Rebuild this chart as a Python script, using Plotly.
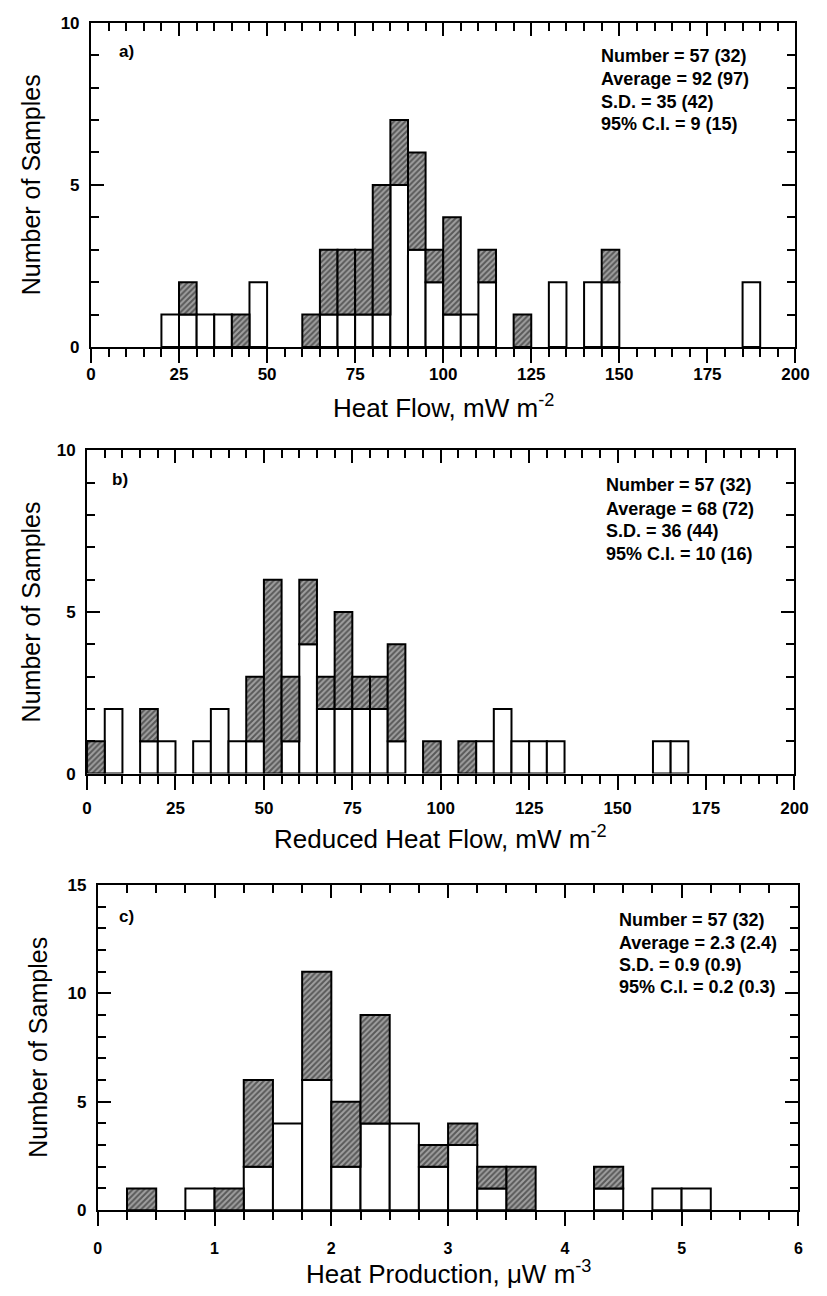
import plotly.graph_objects as go

# ---------------- data ----------------
# panel a: Heat Flow (bin width 5 mW m-2), bins given by left edge
a_bins = [20, 25, 30, 35, 40, 45, 60, 65, 70, 75, 80, 85, 90, 95, 100, 105, 110, 120, 130, 140, 145, 185]
a_white = [1, 1, 1, 1, 0, 2, 0, 1, 1, 1, 1, 5, 3, 2, 1, 1, 2, 0, 2, 2, 2, 2]
a_hatch = [0, 1, 0, 0, 1, 0, 1, 2, 2, 2, 4, 2, 3, 1, 3, 0, 1, 1, 0, 0, 1, 0]
a_stats = ["Number = 57 (32)", "Average = 92 (97)", "S.D. = 35 (42)", "95% C.I. = 9 (15)"]

# panel b: Reduced Heat Flow (bin width 5 mW m-2)
b_bins = [0, 5, 15, 20, 30, 35, 40, 45, 50, 55, 60, 65, 70, 75, 80, 85, 95, 105, 110, 115, 120, 125, 130, 160, 165]
b_white = [0, 2, 1, 1, 1, 2, 1, 1, 0, 1, 4, 2, 2, 2, 2, 1, 0, 0, 1, 2, 1, 1, 1, 1, 1]
b_hatch = [1, 0, 1, 0, 0, 0, 0, 2, 6, 2, 2, 1, 3, 1, 1, 3, 1, 1, 0, 0, 0, 0, 0, 0, 0]
b_stats = ["Number = 57 (32)", "Average = 68 (72)", "S.D. = 36 (44)", "95% C.I. = 10 (16)"]

# panel c: Heat Production (bin width 0.25 uW m-3)
c_bins = [0.25, 0.75, 1.0, 1.25, 1.5, 1.75, 2.0, 2.25, 2.5, 2.75, 3.0, 3.25, 3.5, 4.25, 4.75, 5.0]
c_white = [0, 1, 0, 2, 4, 6, 2, 4, 4, 2, 3, 1, 0, 1, 1, 1]
c_hatch = [1, 0, 1, 4, 0, 5, 3, 5, 0, 1, 1, 1, 2, 1, 0, 0]
c_stats = ["Number = 57 (32)", "Average = 2.3 (2.4)", "S.D. = 0.9 (0.9)", "95% C.I. = 0.2 (0.3)"]

panels = [
    dict(bins=a_bins, white=a_white, hatch=a_hatch, stats=a_stats, width=5, xr=[0, 200], xd=25, xm=5,
         yr=[0, 10], letter="a)", title="Heat Flow, mW m<sup>-2</sup>", tfs=17, so=-3,
         px=(88, 809), py=(14, 343), stat_x=608, stat_y=[48, 71, 94, 117], lab=(115, 43), title_y=403),
    dict(bins=b_bins, white=b_white, hatch=b_hatch, stats=b_stats, width=5, xr=[0, 200], xd=25, xm=5,
         yr=[0, 10], letter="b)", title="Reduced Heat Flow, mW m<sup>-2</sup>", tfs=17, so=4,
         px=(84, 808), py=(448, 776), stat_x=613, stat_y=[483, 507, 530, 553], lab=(107, 477), title_y=841),
    dict(bins=c_bins, white=c_white, hatch=c_hatch, stats=c_stats, width=0.25, xr=[0, 6], xd=1, xm=0.25,
         yr=[0, 15], letter="c)", title="Heat Production, \u03bcW m<sup>-3</sup>", tfs=16, so=9,
         px=(95, 812), py=(889, 1219), stat_x=626, stat_y=[925, 948, 970, 993], lab=(115, 921), title_y=1282),
]

W, H = 827, 1296
FONT = "Arial"
fig = go.Figure()
annotations = []
layout = {}

for i, p in enumerate(panels):
    n = i + 1
    xa = "x" if n == 1 else f"x{n}"
    ya = "y" if n == 1 else f"y{n}"
    top = f"x{n + 3}"
    w = p["width"]
    # white (bottom) part
    xs = [b + w / 2 for b, v in zip(p["bins"], p["white"]) if v > 0]
    ys = [v for v in p["white"] if v > 0]
    fig.add_trace(go.Bar(x=xs, y=ys, width=w, xaxis=xa, yaxis=ya, showlegend=False,
                         marker=dict(color="white", line=dict(color="black", width=2))))
    # hatched part, stacked on top of white
    xh = [b + w / 2 for b, v in zip(p["bins"], p["hatch"]) if v > 0]
    yh = [v for v in p["hatch"] if v > 0]
    bh = [wv for wv, v in zip(p["white"], p["hatch"]) if v > 0]
    fig.add_trace(go.Bar(x=xh, y=yh, base=bh, width=w, xaxis=xa, yaxis=ya, showlegend=False,
                         marker=dict(color="#999999", line=dict(color="black", width=2),
                                     pattern=dict(shape="/", fgcolor="#111111", bgcolor="#a0a0a0",
                                                  size=4, solidity=0.5))))
    # dummy trace to realise the top axis
    fig.add_trace(go.Scatter(x=[None], y=[None], xaxis=top, yaxis=ya,
                             showlegend=False, hoverinfo="skip"))

    xdom = [p["px"][0] / W, p["px"][1] / W]
    ydom = [1 - p["py"][1] / H, 1 - p["py"][0] / H]
    xkey = "xaxis" if n == 1 else f"xaxis{n}"
    ykey = "yaxis" if n == 1 else f"yaxis{n}"
    layout[xkey] = dict(domain=xdom, range=p["xr"], anchor=ya, showline=True, linecolor="black", linewidth=2,
                        ticks="outside", tickcolor="black", tickwidth=2, ticklen=14, dtick=p["xd"], tick0=0,
                        minor=dict(dtick=p["xm"], ticks="outside", ticklen=8, tickcolor="black", tickwidth=2),
                        showgrid=False, zeroline=False, ticklabelstandoff=p["so"],
                        tickfont=dict(family=FONT, size=p["tfs"], color="black", weight="bold"))
    layout[f"xaxis{n + 3}"] = dict(domain=xdom, range=p["xr"], anchor=ya, overlaying=xa, side="top",
                                   showline=True, linecolor="black", linewidth=2,
                                   ticks="inside", tickcolor="black", tickwidth=2, ticklen=13, dtick=p["xd"], tick0=0,
                                   minor=dict(dtick=p["xm"], ticks="inside", ticklen=8, tickcolor="black", tickwidth=2),
                                   showticklabels=False, showgrid=False, zeroline=False)
    layout[ykey] = dict(domain=ydom, range=p["yr"], anchor=xa, showline=True, linecolor="black", linewidth=2,
                        mirror="ticks", ticks="inside", tickcolor="black", tickwidth=2, ticklen=13, dtick=5, tick0=0,
                        minor=dict(dtick=1, ticks="inside", ticklen=8, tickcolor="black", tickwidth=2),
                        showgrid=False, zeroline=False, ticklabelstandoff=6,
                        tickfont=dict(family=FONT, size=17, color="black", weight="bold"))

    # panel letter
    annotations.append(dict(text=p["letter"], xref="paper", yref="paper", x=p["lab"][0] / W, y=1 - p["lab"][1] / H,
                            xanchor="left", yanchor="middle", showarrow=False,
                            font=dict(family=FONT, size=17, color="black", weight="bold")))
    # stats lines
    for txt, yy in zip(p["stats"], p["stat_y"]):
        annotations.append(dict(text=txt, xref="paper", yref="paper", x=p["stat_x"] / W, y=1 - yy / H,
                                xanchor="left", yanchor="middle", showarrow=False,
                                font=dict(family=FONT, size=18, color="black", weight="bold")))
    # x title
    annotations.append(dict(text=p["title"], xref="paper", yref="paper",
                            x=(p["px"][0] + p["px"][1]) / 2 / W, y=1 - p["title_y"] / H,
                            xanchor="center", yanchor="middle", showarrow=False,
                            font=dict(family=FONT, size=26, color="black")))
    # y title
    annotations.append(dict(text="Number of Samples", xref="paper", yref="paper",
                            x=(27 if n < 3 else 33) / W, y=1 - (p["py"][0] + p["py"][1]) / 2 / H,
                            xanchor="center", yanchor="middle", textangle=-90, showarrow=False,
                            font=dict(family=FONT, size=25, color="black")))

fig.update_layout(width=W, height=H, margin=dict(l=0, r=0, t=0, b=0), barmode="overlay",
                  plot_bgcolor="white", paper_bgcolor="white", annotations=annotations, **layout)

fig.write_html("out.html")
